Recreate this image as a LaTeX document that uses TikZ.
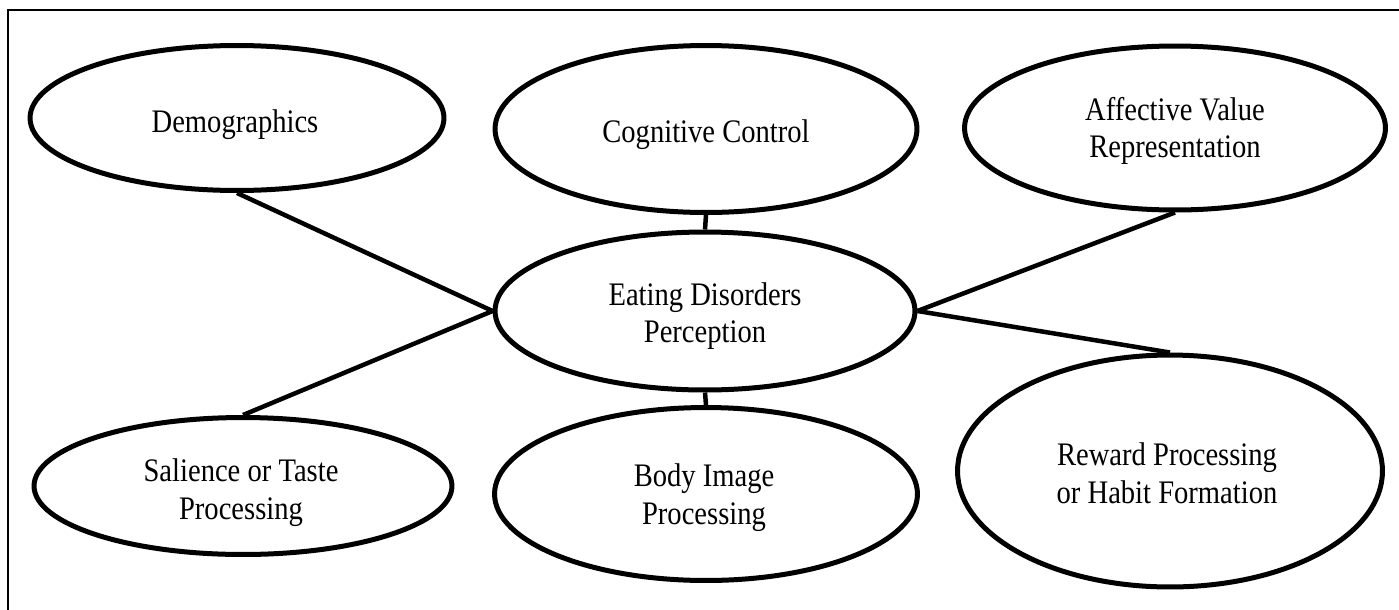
\documentclass[tikz,border=0pt]{standalone}
\usepackage{fontspec}
\setmainfont{Liberation Serif}[FakeStretch=0.87]
\usetikzlibrary{shapes.geometric}

\tikzset{
    bubble/.style={ellipse, draw, line width=0.1cm, inner sep=0pt},
    caption/.style={align=center, inner sep=0pt, font=\fontsize{18.7}{21.5}\selectfont},
    link/.style={line width=0.09cm}
}

\begin{document}
\begin{tikzpicture}[x=0.02cm, y=-0.02cm]
\useasboundingbox (0,0) rectangle (1399,609);
\clip (0,0) rectangle (1399,609);
\draw [line width=0.04cm] (8,10) rectangle (1440,660);
\node[bubble, minimum width=8.28cm, minimum height=2.90cm] (demo) at (237,118) {};
\node[bubble, minimum width=8.44cm, minimum height=3.34cm] (cog) at (706,129) {};
\node[bubble, minimum width=8.42cm, minimum height=3.28cm] (aff) at (1175,128) {};
\node[bubble, minimum width=8.40cm, minimum height=3.16cm] (eat) at (705,311) {};
\node[bubble, minimum width=8.36cm, minimum height=2.74cm] (sal) at (243,486) {};
\node[bubble, minimum width=8.46cm, minimum height=3.46cm] (body) at (706,494) {};
\node[bubble, minimum width=8.50cm, minimum height=4.64cm] (rew) at (1170,471) {};
\node[caption] (demo-t) at (235,125) {Demographics};
\node[caption] (cog-t) at (706,135) {Cognitive Control};
\node[caption] (aff-t) at (1175,131) {Affective Value\\Representation};
\node[caption] (eat-t) at (705,316) {Eating Disorders\\Perception};
\node[caption] (sal-t) at (241,493) {Salience or Taste\\Processing};
\node[caption] (body-t) at (704,498) {Body Image\\Processing};
\node[caption] (rew-t) at (1167,473) {Reward Processing\\or Habit Formation};
\draw [link] (demo.south) -- (eat.west);
\draw [link] (sal.north) -- (eat.west);
\draw [link] (cog.south) -- (eat.north);
\draw [link] (eat.south) -- (body.north);
\draw [link] (aff.south) -- (eat.east);
\draw [link] (rew.north) -- (eat.east);
\end{tikzpicture}
\end{document}
